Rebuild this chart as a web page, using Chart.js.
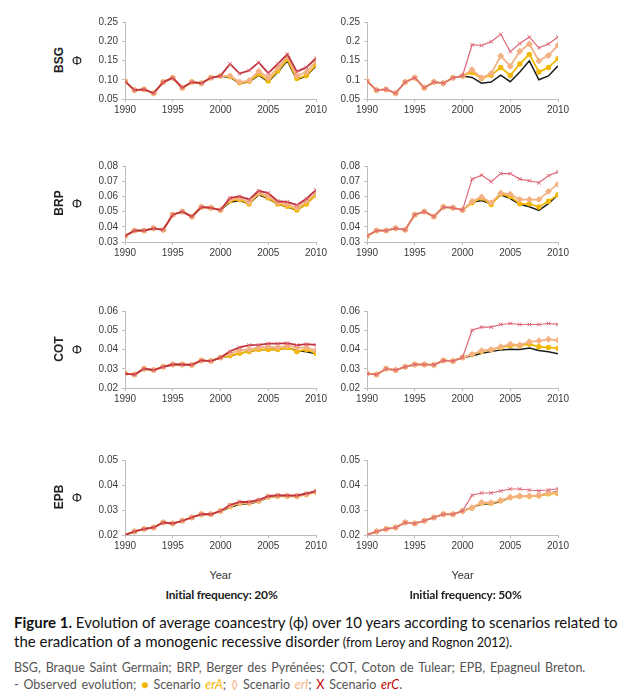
<!DOCTYPE html>
<html>
<head>
<meta charset="utf-8">
<script src="https://cdn.jsdelivr.net/npm/chart.js@4.4.1/dist/chart.umd.min.js"></script>
<style>
  body { margin: 0; background: #fff; }
  #page { position: relative; width: 635px; height: 700px; overflow: hidden; background: #fff; }
  canvas.panel { position: absolute; }
  .lbl { position: absolute; white-space: nowrap; transform: translate(-50%, -50%); }
  .breed { font: bold 12px "Liberation Sans", Arial, sans-serif; color: #222; transform: translate(-50%, -50%) rotate(-90deg); }
  .phi { font: 13px "Liberation Sans", Arial, sans-serif; color: #222; }
  .year { font: 11px "Liberation Sans", Arial, sans-serif; color: #333; }
  .freq { font: bold 12px Lato, sans-serif; color: #222; letter-spacing: -0.2px; }
  .cap { position: absolute; left: 14px; white-space: nowrap; font-family: Lato, sans-serif; }
</style>
</head>
<body>
<div id="page"></div>
<script>
// years on the x axis
var years = [1990, 1991, 1992, 1993, 1994, 1995, 1996, 1997, 1998, 1999, 2000,
             2001, 2002, 2003, 2004, 2005, 2006, 2007, 2008, 2009, 2010];

// ---- BSG ----  (1990-2000 shared by every series, then 2001-2010)
var bsgBase  = [0.096, 0.073, 0.075, 0.065, 0.094, 0.105, 0.079, 0.094, 0.091, 0.105, 0.110];
var bsgObs   = [0.106, 0.091, 0.094, 0.112, 0.095, 0.120, 0.149, 0.100, 0.110, 0.136];
var bsgErA20 = [0.108, 0.092, 0.096, 0.115, 0.097, 0.123, 0.153, 0.103, 0.111, 0.139];
var bsgErI20 = [0.110, 0.094, 0.098, 0.122, 0.105, 0.131, 0.160, 0.110, 0.120, 0.148];
var bsgErC20 = [0.141, 0.116, 0.124, 0.145, 0.117, 0.141, 0.166, 0.121, 0.132, 0.156];
var bsgErA50 = [0.119, 0.104, 0.112, 0.132, 0.111, 0.141, 0.166, 0.120, 0.132, 0.155];
var bsgErI50 = [0.126, 0.105, 0.116, 0.162, 0.135, 0.174, 0.193, 0.149, 0.163, 0.190];
var bsgErC50 = [0.191, 0.189, 0.199, 0.218, 0.173, 0.194, 0.211, 0.183, 0.193, 0.211];

// ---- BRP ----
var brpBase  = [0.034, 0.0375, 0.0375, 0.039, 0.038, 0.048, 0.050, 0.0467, 0.053, 0.0525, 0.051];
var brpObs   = [0.0562, 0.0573, 0.0551, 0.0611, 0.0585, 0.0548, 0.0532, 0.0508, 0.0553, 0.0611];
var brpErA20 = [0.057, 0.058, 0.055, 0.062, 0.059, 0.055, 0.0535, 0.0510, 0.055, 0.061];
var brpErI20 = [0.058, 0.059, 0.056, 0.0625, 0.060, 0.056, 0.055, 0.0525, 0.057, 0.062];
var brpErC20 = [0.059, 0.060, 0.058, 0.0637, 0.0622, 0.0568, 0.0564, 0.0543, 0.0585, 0.0643];
var brpErA50 = [0.0558, 0.059, 0.0547, 0.0615, 0.060, 0.0551, 0.0551, 0.053, 0.0568, 0.0611];
var brpErI50 = [0.0568, 0.0596, 0.0558, 0.0622, 0.0615, 0.0579, 0.0579, 0.0579, 0.0633, 0.068];
var brpErC50 = [0.0714, 0.074, 0.0697, 0.075, 0.075, 0.0714, 0.0703, 0.069, 0.0736, 0.0762];

// ---- COT ----
var cotBase  = [0.0275, 0.027, 0.030, 0.0293, 0.031, 0.0322, 0.0322, 0.032, 0.0343, 0.034, 0.0358];
var cotObs   = [0.0366, 0.0380, 0.0389, 0.0398, 0.0401, 0.0400, 0.0408, 0.0395, 0.0388, 0.0378];
var cotErA20 = [0.0368, 0.038, 0.039, 0.040, 0.040, 0.040, 0.041, 0.039, 0.040, 0.038];
var cotErI20 = [0.038, 0.0395, 0.040, 0.041, 0.0415, 0.041, 0.042, 0.041, 0.041, 0.0395];
var cotErC20 = [0.0391, 0.0411, 0.0423, 0.0424, 0.0431, 0.0431, 0.0433, 0.0423, 0.0428, 0.0424];
var cotErA50 = [0.0374, 0.039, 0.0399, 0.0411, 0.042, 0.042, 0.0428, 0.0414, 0.0411, 0.0406];
var cotErI50 = [0.0374, 0.0394, 0.0399, 0.0414, 0.0428, 0.0423, 0.044, 0.0445, 0.0453, 0.0448];
var cotErC50 = [0.050, 0.0516, 0.0516, 0.053, 0.0535, 0.053, 0.053, 0.053, 0.0535, 0.053];

// ---- EPB ----
var epbBase  = [0.020, 0.0214, 0.0224, 0.023, 0.025, 0.0246, 0.0257, 0.027, 0.0283, 0.0283, 0.0296];
var epbObs   = [0.0310, 0.0324, 0.0325, 0.0334, 0.0351, 0.0355, 0.0355, 0.0356, 0.0366, 0.0374];
var epbErA20 = [0.0314, 0.0327, 0.0328, 0.0336, 0.0352, 0.0355, 0.0355, 0.0355, 0.0362, 0.0372];
var epbErI20 = [0.0316, 0.0329, 0.0329, 0.0337, 0.0353, 0.0356, 0.0356, 0.0356, 0.0363, 0.0373];
var epbErC20 = [0.0320, 0.0332, 0.0332, 0.0340, 0.0355, 0.0359, 0.0358, 0.0358, 0.0366, 0.0376];
var epbErA50 = [0.0308, 0.0328, 0.0327, 0.0337, 0.035, 0.0355, 0.0355, 0.0357, 0.0365, 0.0366];
var epbErI50 = [0.0309, 0.0330, 0.0329, 0.0339, 0.0351, 0.0356, 0.0356, 0.0358, 0.0368, 0.0369];
var epbErC50 = [0.0359, 0.0368, 0.0368, 0.0376, 0.0384, 0.0384, 0.038, 0.0377, 0.038, 0.0385];

// axis ranges / ticks per breed
var breeds   = ["BSG", "BRP", "COT", "EPB"];
var yMins    = [0.05, 0.03, 0.02, 0.02];
var yMaxs    = [0.25, 0.08, 0.06, 0.05];
var ySteps   = [0.05, 0.01, 0.01, 0.01];
var xTicks   = [1990, 1995, 2000, 2005, 2010];

// panel geometry (plot area) — rows and the two columns
var rowTop = [20, 164, 309, 458];
var rowBot = [99, 242, 388, 535];
var colLeft = [125, 367];
var plotW = 191;

var C_OBS = "#1c1c1c", C_A = "#f2b705", C_I = "#f4b183", C_C = "#c0333f", C_CX = "#dd6677";

var page = document.getElementById("page");

function addLabel(cls, text, x, y) {
  var d = document.createElement("div");
  d.className = "lbl " + cls;
  d.textContent = text;
  d.style.left = x + "px";
  d.style.top = y + "px";
  page.appendChild(d);
}

function series(base, post) { return base.concat(post); }

var panelData = [
  [bsgBase, bsgObs, [bsgErA20, bsgErI20, bsgErC20], [bsgErA50, bsgErI50, bsgErC50]],
  [brpBase, brpObs, [brpErA20, brpErI20, brpErC20], [brpErA50, brpErI50, brpErC50]],
  [cotBase, cotObs, [cotErA20, cotErI20, cotErC20], [cotErA50, cotErI50, cotErC50]],
  [epbBase, epbObs, [epbErA20, epbErI20, epbErC20], [epbErA50, epbErI50, epbErC50]]
];

var PAD_L = 45, PAD_T = 8, PAD_R = 16, PAD_B = 22;

function makePanel(r, c) {
  var d = panelData[r];
  var base = d[0], obs = d[1], sc = d[2 + c];
  var plotH = rowBot[r] - rowTop[r];
  var cv = document.createElement("canvas");
  cv.className = "panel";
  var w = PAD_L + plotW + PAD_R, h = PAD_T + plotH + PAD_B;
  cv.style.left = (colLeft[c] - PAD_L) + "px";
  cv.style.top = (rowTop[r] - PAD_T) + "px";
  cv.style.width = w + "px";
  cv.style.height = h + "px";
  cv.width = w; cv.height = h;
  page.appendChild(cv);

  function pts(arr) {
    return arr.map(function (v, i) { return { x: years[i], y: v }; });
  }
  var trimBSG = (r === 0 && c === 1);

  new Chart(cv.getContext("2d"), {
    type: "line",
    data: {
      datasets: [{
        label: "erC",
        data: pts(series(base, sc[2])),
        borderColor: c === 0 ? C_C : C_CX,
        borderWidth: c === 0 ? 1.8 : 1.2,
        pointStyle: "crossRot",
        pointRadius: 2.6,
        pointBorderColor: C_CX,
        pointBorderWidth: 1,
        tension: 0
      }, {
        label: "erI",
        data: pts(series(base, sc[1])),
        borderColor: C_I,
        borderWidth: 1.8,
        pointStyle: "rectRot",
        pointRadius: 2.2,
        pointBackgroundColor: C_I,
        pointBorderColor: C_I,
        tension: 0
      }, {
        label: "erA",
        data: pts(series(base, sc[0])),
        borderColor: C_A,
        borderWidth: 1.8,
        pointStyle: "circle",
        pointRadius: 1.8,
        pointBackgroundColor: C_A,
        pointBorderColor: C_A,
        tension: 0
      }, {
        label: "Observed",
        data: pts(series(base, obs)),
        borderColor: C_OBS,
        borderWidth: 1.5,
        pointRadius: 0,
        tension: 0
      }]
    },
    options: {
      responsive: false,
      animation: false,
      devicePixelRatio: 1,
      layout: { padding: { top: PAD_T, right: PAD_R, left: 0, bottom: 0 } },
      plugins: { legend: { display: false }, tooltip: { enabled: false } },
      scales: {
        x: {
          type: "linear",
          min: 1990, max: 2010,
          afterFit: function (s) { s.height = PAD_B; },
          afterBuildTicks: function (s) { s.ticks = xTicks.map(function (v) { return { value: v }; }); },
          ticks: {
            callback: function (v) { return String(v); },
            color: "#3a3a3a",
            font: { family: "Liberation Sans", size: 10 },
            padding: 2,
            maxRotation: 0
          },
          grid: { display: true, drawOnChartArea: false, drawTicks: true, tickLength: 3, color: "#bdbdbd" },
          border: { display: true, color: "#bdbdbd", width: 1 }
        },
        y: {
          min: yMins[r], max: yMaxs[r],
          afterFit: function (s) { s.width = PAD_L; },
          ticks: {
            stepSize: ySteps[r],
            callback: function (v) {
              return trimBSG ? String(parseFloat(v.toFixed(2))) : v.toFixed(2);
            },
            color: "#3a3a3a",
            font: { family: "Liberation Sans", size: 10 },
            padding: 4
          },
          grid: { display: true, drawOnChartArea: false, drawTicks: true, tickLength: 3, color: "#bdbdbd" },
          border: { display: true, color: "#bdbdbd", width: 1 }
        }
      }
    }
  });
}

for (var r = 0; r < 4; r++) {
  makePanel(r, 0);
  makePanel(r, 1);
  var mid = (rowTop[r] + rowBot[r]) / 2;
  addLabel("breed", breeds[r], 59, mid);
  addLabel("phi", "Φ", 77, mid);
}

addLabel("year", "Year", colLeft[0] + plotW / 2, 575);
addLabel("year", "Year", colLeft[1] + plotW / 2, 575);
addLabel("freq", "Initial frequency: 20%", colLeft[0] + plotW / 2 + 1, 594);
addLabel("freq", "Initial frequency: 50%", colLeft[1] + plotW / 2 + 3, 594);

function addCap(html, top, css) {
  var d = document.createElement("div");
  d.className = "cap";
  d.style.top = top + "px";
  d.style.cssText += css;
  d.innerHTML = html;
  page.appendChild(d);
}

addCap("<b>Figure 1.</b> Evolution of average coancestry (ϕ) over 10 years according to scenarios related to",
       613, "font-size:15px;color:#111;");
addCap("the eradication of a monogenic recessive disorder <span style='font-size:12.5px'>(from Leroy and Rognon 2012).</span>",
       632, "font-size:15px;color:#111;");
addCap("BSG, Braque Saint Germain; BRP, Berger des Pyrénées; COT, Coton de Tulear; EPB, Epagneul Breton.",
       660, "font-size:12.5px;color:#555;word-spacing:1.6px;");
addCap("- Observed evolution; <span style='color:" + C_A + "'>●</span> Scenario <i style='color:" + C_A + "'>erA</i>; " +
       "<span style='color:" + C_I + "'>◊</span> Scenario <i style='color:" + C_I + "'>erI</i>; " +
       "<span style='color:#c00000'>X</span> Scenario <i style='color:#c00000'>erC</i>.",
       677, "font-size:12.5px;color:#555;word-spacing:1.6px;");
</script>
</body>
</html>
